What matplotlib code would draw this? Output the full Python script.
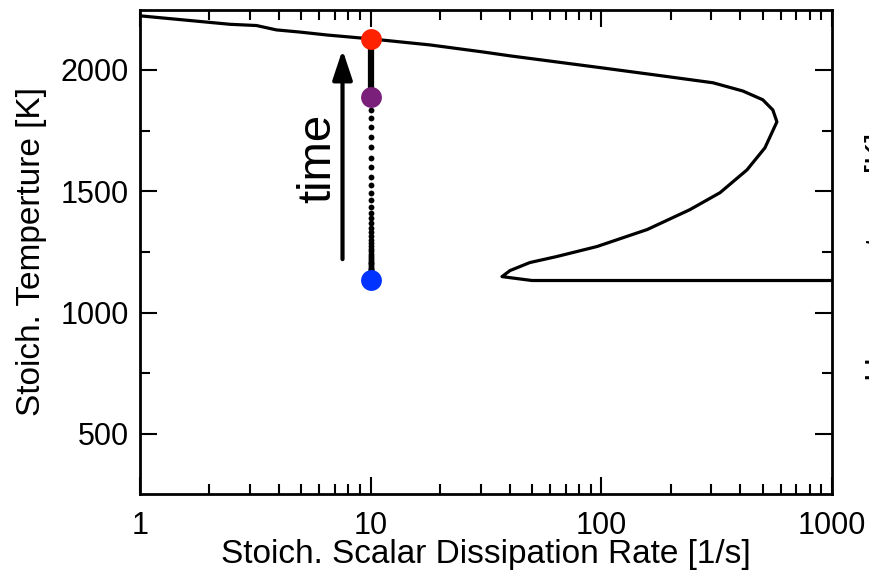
import matplotlib.pyplot as plt
import numpy as np
from matplotlib.ticker import FixedLocator, NullFormatter

plt.rcParams['font.family'] = ['Liberation Sans', 'DejaVu Sans']

# S-curve: stoich. scalar dissipation rate [1/s] vs stoich. temperature [K]
chi_curve = [1.0, 2.46, 3.2, 3.9, 4.94, 6.46, 10.0, 18.1, 30.7, 40.2, 101.6, 185, 305, 411,
             501, 554, 577, 512, 428, 327, 242, 158, 95.7, 64.2, 49.0, 40.2, 37.1, 50.0, 1000]
T_curve = [2223, 2188, 2183, 2165, 2156, 2144, 2128, 2103, 2074, 2058, 2008, 1975, 1947, 1913,
           1877, 1835, 1786, 1679, 1588, 1494, 1424, 1342, 1272, 1231, 1206, 1173, 1148, 1132, 1132]

# transient at chi = 10
chi_run = 10.0
T_dots = [1835, 1802, 1765, 1724, 1683, 1638, 1601, 1560, 1527, 1494, 1465, 1436, 1412, 1391,
          1370, 1350, 1333, 1317, 1300, 1288, 1276, 1263, 1253, 1243, 1235, 1226, 1218, 1210,
          1204, 1198, 1191, 1185, 1181, 1177, 1173, 1169, 1165, 1161, 1156, 1152, 1148, 1144]
T_solid = [2128, 1889]
T_start, T_mid, T_end = 1136, 1889, 2128

fig = plt.figure(figsize=(8.69, 5.70), dpi=100)
ax = fig.add_axes([140 / 869, 1 - 494 / 570, 692 / 869, 484 / 570])

ax.plot(chi_curve, T_curve, color='black', lw=2.3, zorder=2)
ax.plot([chi_run] * len(T_solid), T_solid, color='black', lw=4.5, zorder=3)
ax.plot([chi_run] * len(T_dots), T_dots, 'o', color='black', ms=4.2, mew=0, zorder=3)
ax.plot([chi_run], [T_start], 'o', color='#0033ff', ms=15, mew=0, zorder=4)
ax.plot([chi_run], [T_mid], 'o', color='#7a1f7a', ms=15, mew=0, zorder=4)
ax.plot([chi_run], [T_end], 'o', color='#ff2200', ms=15, mew=0, zorder=4)

# time arrow
ax.annotate('', xy=(7.55, 2083), xytext=(7.55, 1220),
            arrowprops=dict(arrowstyle='-|>,head_width=0.6,head_length=1.8',
                            color='black', lw=3, shrinkA=0, shrinkB=0))
ax.text(5.92, 1637, 'time', rotation=90, fontsize=34, ha='center', va='center')

ax.set_xscale('log')
ax.set_xlim(1, 1000)
ax.set_ylim(252, 2247)
ax.set_xticks([1, 10, 100, 1000])
ax.set_xticklabels(['1', '10', '100', '1000'])
ax.xaxis.set_minor_locator(FixedLocator([m * 10 ** e for e in range(3) for m in range(2, 10)]))
ax.xaxis.set_minor_formatter(NullFormatter())
ax.set_yticks([500, 1000, 1500, 2000])
ax.yaxis.set_minor_locator(FixedLocator([750, 1250, 1750]))

ax.tick_params(which='both', direction='in', top=True, right=True, width=1.5, labelsize=22)
ax.tick_params(which='major', length=12)
ax.tick_params(axis='x', which='major', pad=12)
ax.tick_params(axis='y', which='major', pad=8)
ax.tick_params(which='minor', length=7)
for s in ax.spines.values():
    s.set_linewidth(2)

ax.set_xlabel('Stoich. Scalar Dissipation Rate [1/s]', fontsize=24, labelpad=-1)
ax.set_ylabel('Stoich. Temperture [K]', fontsize=24, labelpad=10)

# label of the neighbouring panel, cut off by the image edge
fig.text(864.5 / 869, 1 - 257 / 570, 'Hnorm. st, av [K]', rotation=90, fontsize=24,
         ha='left', va='center')

fig.savefig('out.png', dpi=100)
